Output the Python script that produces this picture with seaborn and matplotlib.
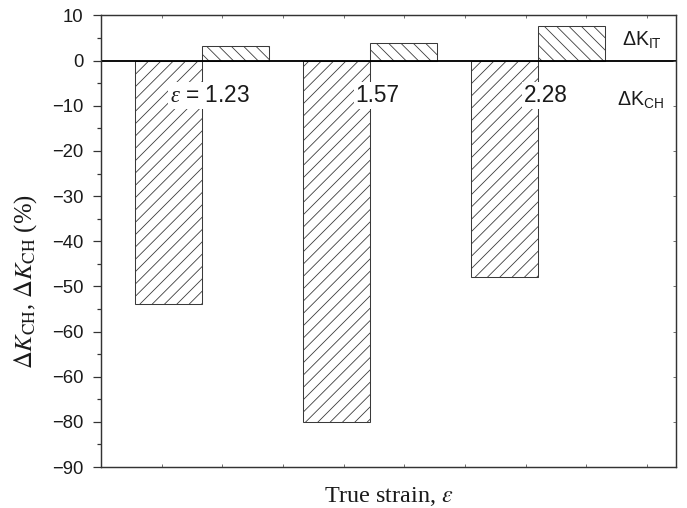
import matplotlib
matplotlib.use("Agg")
import matplotlib.pyplot as plt
import numpy as np
import pandas as pd
import seaborn as sns

# ---- data ----
strains = ["1.23", "1.57", "2.28"]
dk_ch = [-53.8, -80.0, -48.0]
dk_it = [3.3, 3.8, 7.7]
series = ["CH", "IT"]
bar_labels = ["$\\varepsilon$ = 1.23", "1.57", "2.28"]
ytick_values = [-90, -80, -70, -60, -50, -40, -30, -20, -10, 0, 10]
ytick_labels = ["\u221290", "\u221280", "\u221260", "\u221260", "\u221250", "\u221240",
                "\u221230", "\u221220", "\u221210", "0", "10"]

df = pd.DataFrame({
    "strain": strains * 2,
    "series": [series[0]] * 3 + [series[1]] * 3,
    "value": dk_ch + dk_it,
})

sns.set_theme(style="ticks")
plt.rcParams["font.family"] = ["Liberation Sans", "DejaVu Sans"]
plt.rcParams["mathtext.fontset"] = "custom"
plt.rcParams["mathtext.rm"] = "Liberation Sans"
plt.rcParams["mathtext.it"] = "Liberation Serif:italic"
plt.rcParams["hatch.linewidth"] = 0.8

DPI = 74
fig = plt.figure(figsize=(688 / DPI, 508 / DPI), dpi=DPI)
ax = fig.add_axes([0.1468, 0.0807, 0.9826 - 0.1468, 0.9695 - 0.0807])

edge = "#3a3a3a"
sns.barplot(data=df, x="strain", y="value", hue="series", hue_order=series,
            palette=["white", "white"], edgecolor=edge, linewidth=1.0,
            width=0.8, gap=0, legend=False, ax=ax, saturation=1)

hatches = ["//", "\\\\"]
for cont, h in zip(ax.containers, hatches):
    for p in cont:
        p.set_hatch(h)
        p.set_edgecolor(edge)
        p.set_facecolor("white")

ax.set_xlim(-0.6, 2.82)
ax.set_ylim(-90, 10)
ax.axhline(0, color="black", lw=1.8, zorder=5)

# value labels
for i, lab in enumerate(bar_labels):
    ax.text(i + 0.045, -7.8, lab, ha="center", va="center", fontsize=22,
            color="#1a1a1a", math_fontfamily="custom",
            bbox=dict(facecolor="white", edgecolor="none", pad=2), zorder=6)

ax.text(2.5, 4.6, r"$\Delta$K$_{\mathrm{IT}}$", ha="left", va="center", fontsize=19,
        color="#1a1a1a", math_fontfamily="custom")
ax.text(2.47, -8.6, r"$\Delta$K$_{\mathrm{CH}}$", ha="left", va="center", fontsize=19,
        color="#1a1a1a", math_fontfamily="custom")

# y ticks
ax.set_yticks(ytick_values)
ax.set_yticklabels(ytick_labels)
ax.set_yticks(np.arange(-85, 10, 10), minor=True)
ax.tick_params(axis="y", which="major", direction="out", length=8, width=1.2,
               labelsize=18, labelcolor="#1a1a1a", color="#333333", pad=9)
ax.tick_params(axis="y", which="minor", direction="out", length=3.5, width=1.2,
               color="#333333")

# x ticks (unlabelled)
ax.set_xticks(-0.6 + 0.3607 * np.arange(1, 10))
ax.set_xticklabels([])
ax.tick_params(axis="x", which="major", direction="in", length=3, width=0.8,
               top=True, bottom=True, color="#555555")

# right-side ticks
axr = ax.twinx()
axr.set_ylim(ax.get_ylim())
axr.set_yticks(ytick_values[1:-1])
axr.set_yticklabels([])
axr.tick_params(axis="y", direction="in", length=3, width=0.8, color="#555555")

for a in (ax, axr):
    for s in a.spines.values():
        s.set_color("#333333")
        s.set_linewidth(1.2)

ax.set_xlabel("True strain, $\\varepsilon$", fontsize=23.5, family="Liberation Serif",
              math_fontfamily="stix", color="#1a1a1a", labelpad=14)
ax.set_ylabel(r"$\Delta K_{\rm CH}$, $\Delta K_{\rm CH}$ (%)", fontsize=24,
              family="Liberation Serif", math_fontfamily="stix", color="#1a1a1a")
ax.yaxis.set_label_coords(-0.108, 0.41)

fig.savefig("out.png", dpi=DPI)
